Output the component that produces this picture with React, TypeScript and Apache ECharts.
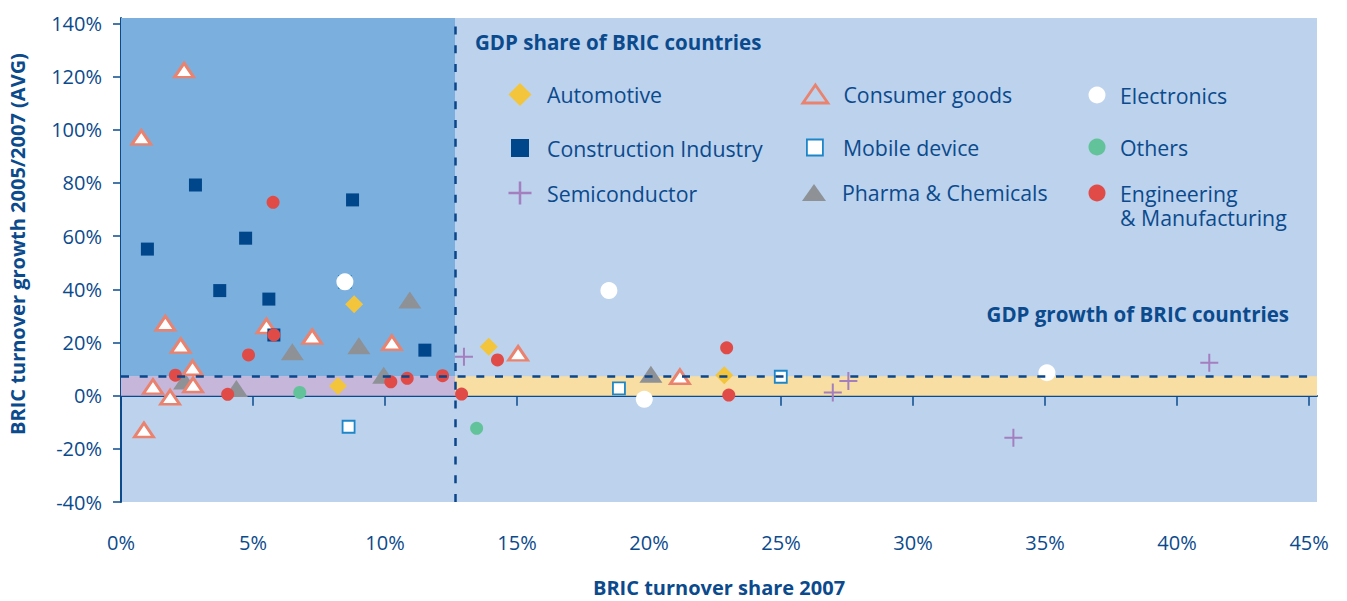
import React, { useEffect, useRef } from "react";
import * as echarts from "echarts";

// ---- data (x = BRIC turnover share 2007 in %, y = BRIC turnover growth 2005/2007 in %) ----
const automotive = [[8.83, 34.4], [8.22, 3.6], [13.93, 18.4], [22.85, 7.7]];
const consumerGoods = [
  [2.39, 122.4], [0.77, 97.1], [1.68, 27.2], [2.26, 18.8], [2.71, 10.5], [1.21, 3.4],
  [1.86, -0.6], [2.73, 4.0], [5.51, 26.2], [7.24, 22.2], [10.26, 19.9], [0.87, -12.9],
  [15.04, 15.9], [21.17, 7.1],
];
const electronics = [[8.48, 42.8], [18.48, 39.5], [19.82, -1.4], [35.07, 8.6]];
const construction = [
  [2.82, 79.2], [8.77, 73.6], [1.0, 55.1], [4.72, 59.2], [3.74, 39.5], [5.6, 36.3],
  [5.79, 22.8], [11.51, 17.1],
];
const mobileDevice = [[8.48, 42.8], [8.62, -11.7], [18.86, 2.7], [24.99, 7.1]];
const others = [[6.77, 1.2], [13.47, -12.3]];
const semiconductor = [[12.99, 14.6], [26.96, 1.2], [27.55, 5.5], [33.8, -15.8], [41.22, 12.4]];
const pharma = [[6.49, 16.5], [9.01, 18.8], [10.94, 36.0], [9.95, 7.7], [4.37, 2.7], [2.41, 5.5], [20.07, 8.0]];
const engineering = [
  [5.76, 72.7], [5.79, 22.8], [4.83, 15.3], [2.06, 7.7], [4.04, 0.5], [10.22, 5.2],
  [10.84, 6.5], [12.18, 7.5], [12.9, 0.6], [14.26, 13.4], [22.94, 18.0], [23.02, 0.2],
];

// reference values
const GDP_SHARE = 12.65; // GDP share of BRIC countries (%)
const GDP_GROWTH = 7.3; // GDP growth of BRIC countries (%)

// axes
const X_MIN = 0;
const X_MAX = 45.3;
const Y_MIN = -40;
const Y_MAX = 142;
const X_TICKS = [0, 5, 10, 15, 20, 25, 30, 35, 40, 45];
const Y_TICKS = [-40, -20, 0, 20, 40, 60, 80, 100, 120, 140];

const NAVY = "#0B4A8C";
const FONT = "Open Sans";
const PLUS = "path://M8.9,0H11.1V8.9H20V11.1H11.1V20H8.9V11.1H0V8.9H8.9Z";

type LegendSpec = {
  name: string;
  label?: string;
  icon: string;
  cx: number;
  cy: number;
  w: number;
  h: number;
  textLeft: number;
  itemStyle?: any;
  lines?: number;
};

export default function App() {
  const ref = useRef<HTMLDivElement>(null);

  useEffect(() => {
    if (!ref.current) return;
    const chart = echarts.init(ref.current, undefined, { renderer: "svg" });

    const LH = 24.7;
    const legends: LegendSpec[] = [
      { name: "Automotive", icon: "diamond", cx: 520, cy: 94.5, w: 23, h: 23, textLeft: 547, itemStyle: { color: "#F2C53D" } },
      { name: "Consumer goods", icon: "triangle", cx: 814, cy: 94, w: 25, h: 18, textLeft: 842, itemStyle: { color: "transparent", borderColor: "#E9826E", borderWidth: 2.8 } },
      { name: "Electronics", icon: "circle", cx: 1097, cy: 95, w: 17, h: 17, textLeft: 1120, itemStyle: { color: "#FFFFFF" } },
      { name: "Construction Industry", icon: "rect", cx: 520, cy: 148, w: 18, h: 18, textLeft: 547, itemStyle: { color: "#00468B" } },
      { name: "Mobile device", icon: "rect", cx: 814, cy: 147.5, w: 16, h: 16, textLeft: 842, itemStyle: { color: "#FFFFFF", borderColor: "#1C86C8", borderWidth: 1.8 } },
      { name: "Others", icon: "circle", cx: 1097, cy: 147, w: 17, h: 17, textLeft: 1120, itemStyle: { color: "#62C299" } },
      { name: "Semiconductor", icon: PLUS, cx: 520, cy: 193, w: 23, h: 23, textLeft: 547, itemStyle: { color: "#A37FC0" } },
      { name: "Pharma & Chemicals", icon: "triangle", cx: 814, cy: 192.5, w: 24, h: 17, textLeft: 842, itemStyle: { color: "#8E9196" } },
      { name: "Engineering & Manufacturing", label: "\nEngineering\n& Manufacturing", lines: 3, icon: "circle", cx: 1097, cy: 193, w: 17, h: 17, textLeft: 1120, itemStyle: { color: "#E04B47" } },
    ];

    const legendOpts = legends.map((l) => {
      const lines = l.lines || 1;
      const textH = lines * LH;
      const boxH = Math.max(l.h, textH);
      return {
        show: true,
        selectedMode: false,
        orient: "horizontal",
        left: l.cx - l.w / 2,
        top: l.cy - boxH / 2,
        padding: 0,
        itemWidth: l.w,
        itemHeight: l.h,
        symbolKeepAspect: false,
        data: [{ name: l.name, icon: l.icon, itemStyle: { opacity: 1, ...l.itemStyle } }],
        formatter: () => l.label || l.name,
        textStyle: {
          color: NAVY,
          fontFamily: FONT,
          fontSize: 21.3,
          lineHeight: LH,
          padding: [0, 0, 0, l.textLeft - (l.cx + l.w / 2) - 5],
        },
      };
    });

    const scatter = (name: string, data: number[][], symbol: string, symbolSize: any, itemStyle: any) => ({
      name,
      type: "scatter",
      data,
      symbol,
      symbolSize,
      itemStyle: { opacity: 1, ...itemStyle },
      z: 3,
      emphasis: { disabled: true },
    });

    const option: any = {
      animation: false,
      backgroundColor: "#FFFFFF",
      textStyle: { fontFamily: FONT },
      title: [
        {
          text: "GDP share of BRIC countries",
          left: 475,
          top: 30,
          padding: 0,
          textStyle: { color: NAVY, fontFamily: FONT, fontWeight: "bold", fontSize: 20.5, lineHeight: 24 },
        },
        {
          text: "GDP growth of BRIC countries",
          right: 58,
          top: 302,
          padding: 0,
          textStyle: { color: NAVY, fontFamily: FONT, fontWeight: "bold", fontSize: 20.5, lineHeight: 24 },
        },
      ],
      legend: legendOpts,
      grid: {
        left: 121,
        top: 18,
        right: 30,
        bottom: 99,
        show: true,
        backgroundColor: "#BCD2ED",
        borderWidth: 0,
        containLabel: false,
        outerBoundsMode: "none",
      },
      xAxis: {
        type: "value",
        min: X_MIN,
        max: X_MAX,
        interval: 5,
        name: "BRIC turnover share 2007",
        nameLocation: "middle",
        nameGap: 75,
        nameTextStyle: { color: NAVY, fontFamily: FONT, fontWeight: "bold", fontSize: 20 },
        axisLine: { show: true, lineStyle: { color: NAVY, width: 2 } },
        axisTick: { show: true, length: 10, lineStyle: { color: NAVY, width: 1.5 }, customValues: X_TICKS },
        axisLabel: {
          color: NAVY,
          fontFamily: FONT,
          fontSize: 20,
          margin: 30,
          customValues: X_TICKS,
          formatter: (v: number) => `${v}%`,
        },
        splitLine: { show: false },
      },
      yAxis: {
        type: "value",
        min: Y_MIN,
        max: Y_MAX,
        interval: 20,
        name: "BRIC turnover growth 2005/2007 (AVG)",
        nameLocation: "middle",
        nameGap: 94,
        nameTextStyle: { color: NAVY, fontFamily: FONT, fontWeight: "bold", fontSize: 20, padding: [0, 0, 0, 32] },
        axisLine: { show: true, lineStyle: { color: NAVY, width: 2 } },
        axisTick: { show: true, length: 8, lineStyle: { color: NAVY, width: 1.5 }, customValues: Y_TICKS },
        axisLabel: {
          color: NAVY,
          fontFamily: FONT,
          fontSize: 20,
          margin: 19,
          customValues: Y_TICKS,
          formatter: (v: number) => `${v}%`,
        },
        splitLine: { show: false },
      },
      series: [
        {
          name: "areas",
          type: "scatter",
          data: [],
          z: 1,
          silent: true,
          markArea: {
            silent: true,
            label: { show: false },
            data: [
              [
                { xAxis: X_MIN, yAxis: GDP_GROWTH, itemStyle: { color: "#7BAFDE", opacity: 1 } },
                { xAxis: GDP_SHARE, yAxis: Y_MAX },
              ],
              [
                { xAxis: X_MIN, yAxis: 0, itemStyle: { color: "#C5B6DA", opacity: 1 } },
                { xAxis: GDP_SHARE, yAxis: GDP_GROWTH },
              ],
              [
                { xAxis: GDP_SHARE, yAxis: 0, itemStyle: { color: "#F8DEA2", opacity: 1 } },
                { xAxis: X_MAX, yAxis: GDP_GROWTH },
              ],
            ],
          },
        },
        {
          name: "lines",
          type: "scatter",
          data: [],
          z: 2,
          silent: true,
          markLine: {
            silent: true,
            symbol: ["none", "none"],
            label: { show: false },
            lineStyle: { color: "#0A4689", width: 2.5, type: [8, 10.7], opacity: 1 },
            data: [{ xAxis: GDP_SHARE }, { yAxis: GDP_GROWTH }],
          },
        },
        scatter("Pharma & Chemicals", pharma, "triangle", [23, 17], { color: "#8E9196" }),
        scatter("Consumer goods", consumerGoods, "triangle", [19, 14], { color: "#FFFFFF", borderColor: "#E9826E", borderWidth: 2.8 }),
        scatter("Construction Industry", construction, "rect", 13, { color: "#00468B" }),
        scatter("Mobile device", mobileDevice, "rect", 12, { color: "#FFFFFF", borderColor: "#1C86C8", borderWidth: 1.8 }),
        scatter("Engineering & Manufacturing", engineering, "circle", 13, { color: "#E04B47" }),
        scatter("Electronics", electronics, "circle", 17, { color: "#FFFFFF" }),
        scatter("Automotive", automotive, "diamond", 18, { color: "#F2C53D" }),
        scatter("Others", others, "circle", 13, { color: "#62C299" }),
        scatter("Semiconductor", semiconductor, PLUS, 18, { color: "#A37FC0" }),
      ],
    };

    chart.setOption(option);
    return () => chart.dispose();
  }, []);

  return (
    <div
      ref={ref}
      style={{ position: "fixed", left: 0, top: 0, width: 1347, height: 601 }}
    />
  );
}
